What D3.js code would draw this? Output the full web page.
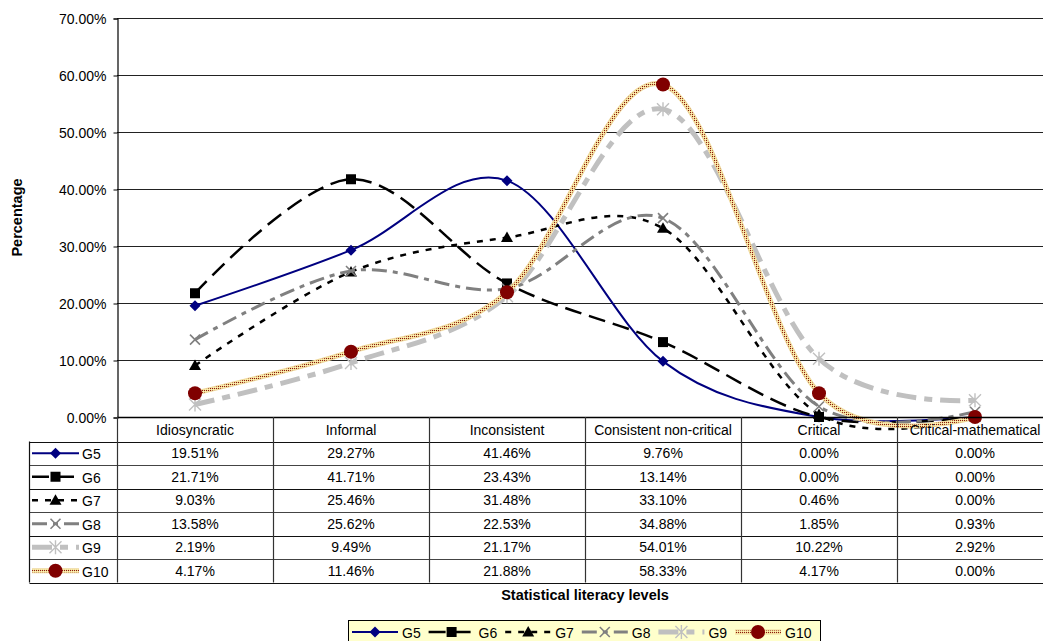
<!DOCTYPE html>
<html>
<head>
<meta charset="utf-8">
<script src="https://cdn.jsdelivr.net/npm/d3@7"></script>
<style>
  html, body { margin: 0; padding: 0; background: #fff; }
  svg { display: block; font-family: "Liberation Sans", Arial, sans-serif; }
</style>
</head>
<body>
<svg id="chart" width="1043" height="641"></svg>
<script>
// Statistical literacy levels by grade
const categories = ["Idiosyncratic", "Informal", "Inconsistent", "Consistent non-critical", "Critical", "Critical-mathematical"];
const seriesNames = ["G5", "G6", "G7", "G8", "G9", "G10"];
const g5 = [19.51, 29.27, 41.46, 9.76, 0.00, 0.00];
const g6 = [21.71, 41.71, 23.43, 13.14, 0.00, 0.00];
const g7 = [9.03, 25.46, 31.48, 33.10, 0.46, 0.00];
const g8 = [13.58, 25.62, 22.53, 34.88, 1.85, 0.93];
const g9 = [2.19, 9.49, 21.17, 54.01, 10.22, 2.92];
const g10 = [4.17, 11.46, 21.88, 58.33, 4.17, 0.00];
const yTicks = [0, 10, 20, 30, 40, 50, 60, 70];

const seriesValues = [g5, g6, g7, g8, g9, g10];

// Per-series look: stroke, width, dash, marker
const styles = [
  { stroke: "#000080", width: 2,   dash: null,          marker: "diamond", fill: "#000080" },
  { stroke: "#000000", width: 2.5, dash: "17,8",        marker: "square",  fill: "#000000" },
  { stroke: "#000000", width: 2.5, dash: "6,7",         marker: "triangle",fill: "#000000" },
  { stroke: "#808080", width: 3,   dash: "15,6,5,6",    marker: "cross",   fill: "#808080" },
  { stroke: "#c0c0c0", width: 5,   dash: "20,8,8,8",    marker: "star",    fill: "#c0c0c0" },
  { stroke: "#eed79a", width: 5,   dash: null, overlay: "url(#checker)", marker: "circle", fill: "#800000" }
];

const svg = d3.select("#chart");
const fmt = v => v.toFixed(2) + "%";

// Dotted overlay pattern for the G10 stroke
const defs = svg.append("defs");
const pat = defs.append("pattern")
  .attr("id", "checker").attr("patternUnits", "userSpaceOnUse")
  .attr("width", 2).attr("height", 2);
pat.append("rect").attr("x", 0).attr("y", 0).attr("width", 1).attr("height", 1)
  .attr("fill", "#8c1a0c").attr("shape-rendering", "crispEdges");
pat.append("rect").attr("x", 1).attr("y", 1).attr("width", 1).attr("height", 1)
  .attr("fill", "#fff7b0").attr("shape-rendering", "crispEdges");

const plotLeft = 117, plotRight = 1053, plotTop = 18, plotBottom = 417;

const x = d3.scaleBand().domain(categories).range([plotLeft, plotRight]).padding(0);
const y = d3.scaleLinear().domain([0, 70]).range([plotBottom, plotTop]);
const cx = c => x(c) + x.bandwidth() / 2;

// Gridlines
svg.append("g").selectAll("line").data(yTicks).join("line")
  .attr("x1", plotLeft).attr("x2", plotRight)
  .attr("y1", d => Math.round(y(d)) + 0.5).attr("y2", d => Math.round(y(d)) + 0.5)
  .attr("stroke", "#222").attr("stroke-width", 1);

// Y axis
const yAxis = d3.axisLeft(y).tickValues(yTicks).tickFormat(fmt).tickSize(4).tickPadding(7);
const yg = svg.append("g").attr("transform", `translate(${plotLeft + 0.5},0.5)`).call(yAxis);
yg.select(".domain").attr("stroke", "#000").attr("stroke-width", 1.2);
yg.selectAll(".tick line").attr("stroke", "#000");
yg.selectAll(".tick text").attr("font-size", 14).attr("fill", "#000")
  .attr("font-family", "Liberation Sans, Arial, sans-serif").attr("dy", "0.36em");

// Axis titles
svg.append("text")
  .attr("transform", `translate(22,${(plotTop + plotBottom) / 2}) rotate(-90)`)
  .attr("text-anchor", "middle").attr("font-weight", "bold").attr("font-size", 14.5)
  .text("Percentage");
svg.append("text")
  .attr("x", (plotLeft + plotRight) / 2).attr("y", 600)
  .attr("text-anchor", "middle").attr("font-weight", "bold").attr("font-size", 14.5)
  .text("Statistical literacy levels");

// Marker drawing
function drawMarker(g, type, fill, px, py) {
  const m = g.append("g").attr("transform", `translate(${px},${py})`);
  switch (type) {
    case "diamond":
      m.append("path").attr("d", "M0,-5.5L5.5,0L0,5.5L-5.5,0Z").attr("fill", fill);
      break;
    case "square":
      m.append("rect").attr("x", -5).attr("y", -5).attr("width", 10).attr("height", 10).attr("fill", fill);
      break;
    case "triangle":
      m.append("path").attr("d", "M0,-6L6,4.5L-6,4.5Z").attr("fill", fill);
      break;
    case "cross":
      m.append("path").attr("d", "M-5,-5L5,5M5,-5L-5,5").attr("stroke", fill).attr("stroke-width", 1.6).attr("fill", "none");
      break;
    case "star":
      m.append("path").attr("d", "M-6,-6L6,6M6,-6L-6,6M0,-7L0,7").attr("stroke", fill).attr("stroke-width", 1.4).attr("fill", "none");
      break;
    case "circle":
      m.append("circle").attr("r", 7).attr("fill", fill);
      break;
  }
}

// Smoothed series lines
const line = d3.line()
  .x((d, i) => cx(categories[i]))
  .y(d => y(d))
  .curve(d3.curveCardinal.tension(0));

const seriesG = svg.append("g");
seriesValues.forEach((vals, si) => {
  const st = styles[si];
  const g = seriesG.append("g");
  g.append("path").datum(vals).attr("d", line)
    .attr("fill", "none").attr("stroke", st.stroke).attr("stroke-width", st.width)
    .attr("stroke-dasharray", st.dash);
  if (st.overlay) {
    g.append("path").datum(vals).attr("d", line)
      .attr("fill", "none").attr("stroke", st.overlay).attr("stroke-width", 3);
  }
  vals.forEach((v, i) => drawMarker(g, st.marker, st.fill, cx(categories[i]), y(v)));
});

// Data table below the plot
const rowTop = 441.5, rowH = 23.5, headerTop = plotBottom;
const table = svg.append("g").attr("font-size", 14);
const nRows = seriesNames.length;
const tableBottom = rowTop + nRows * rowH;

// Header labels
categories.forEach(c => {
  table.append("text").attr("x", cx(c)).attr("y", headerTop + 18)
    .attr("text-anchor", "middle").text(c);
});

// Cell values
seriesValues.forEach((vals, si) => {
  const yc = rowTop + si * rowH + rowH / 2 + 5;
  vals.forEach((v, i) => {
    table.append("text").attr("x", cx(categories[i])).attr("y", yc)
      .attr("text-anchor", "middle").text(fmt(v));
  });
});

// Table grid lines
const keyLeft = 29.5;
table.append("line").attr("x1", plotLeft).attr("x2", plotRight)
  .attr("y1", plotBottom + 0.5).attr("y2", plotBottom + 0.5).attr("stroke", "#000").attr("stroke-width", 1.5);
d3.range(nRows + 1).forEach(r => {
  const yy = Math.round(rowTop + r * rowH) + 0.5;
  table.append("line").attr("x1", keyLeft).attr("x2", plotRight)
    .attr("y1", yy).attr("y2", yy).attr("stroke", r % 2 ? "#444" : "#111").attr("stroke-width", 1.2);
});
table.append("line").attr("x1", keyLeft).attr("x2", keyLeft)
  .attr("y1", rowTop).attr("y2", tableBottom).attr("stroke", "#111").attr("stroke-width", 1.2);
categories.forEach(c => {
  const xx = Math.round(x(c)) + 0.5;
  table.append("line").attr("x1", xx).attr("x2", xx)
    .attr("y1", headerTop).attr("y2", tableBottom).attr("stroke", "#333").attr("stroke-width", 1.2);
});

// Legend keys (line sample + marker)
function drawKey(g, si, x0, yc, len) {
  const st = styles[si];
  g.append("line").attr("x1", x0).attr("x2", x0 + len).attr("y1", yc).attr("y2", yc)
    .attr("stroke", st.stroke).attr("stroke-width", st.width).attr("stroke-dasharray", st.dash);
  if (st.overlay) {
    g.append("line").attr("x1", x0).attr("x2", x0 + len).attr("y1", yc).attr("y2", yc)
      .attr("stroke", st.overlay).attr("stroke-width", 3);
  }
  drawMarker(g, st.marker, st.fill, x0 + len / 2, yc);
}

seriesNames.forEach((name, si) => {
  const yc = rowTop + si * rowH + rowH / 2;
  drawKey(table, si, 32, yc, 47);
  table.append("text").attr("x", 82).attr("y", yc + 6).text(name);
});

// Bottom legend box
const legend = svg.append("g").attr("font-size", 14);
legend.append("rect").attr("x", 348.5).attr("y", 620.5).attr("width", 472).attr("height", 30)
  .attr("fill", "#ffffcc").attr("stroke", "#000").attr("stroke-width", 1);
seriesNames.forEach((name, si) => {
  const x0 = 352 + si * 76.6;
  drawKey(legend, si, x0, 632, 46);
  legend.append("text").attr("x", x0 + 50).attr("y", 638).text(name);
});
</script>
</body>
</html>
